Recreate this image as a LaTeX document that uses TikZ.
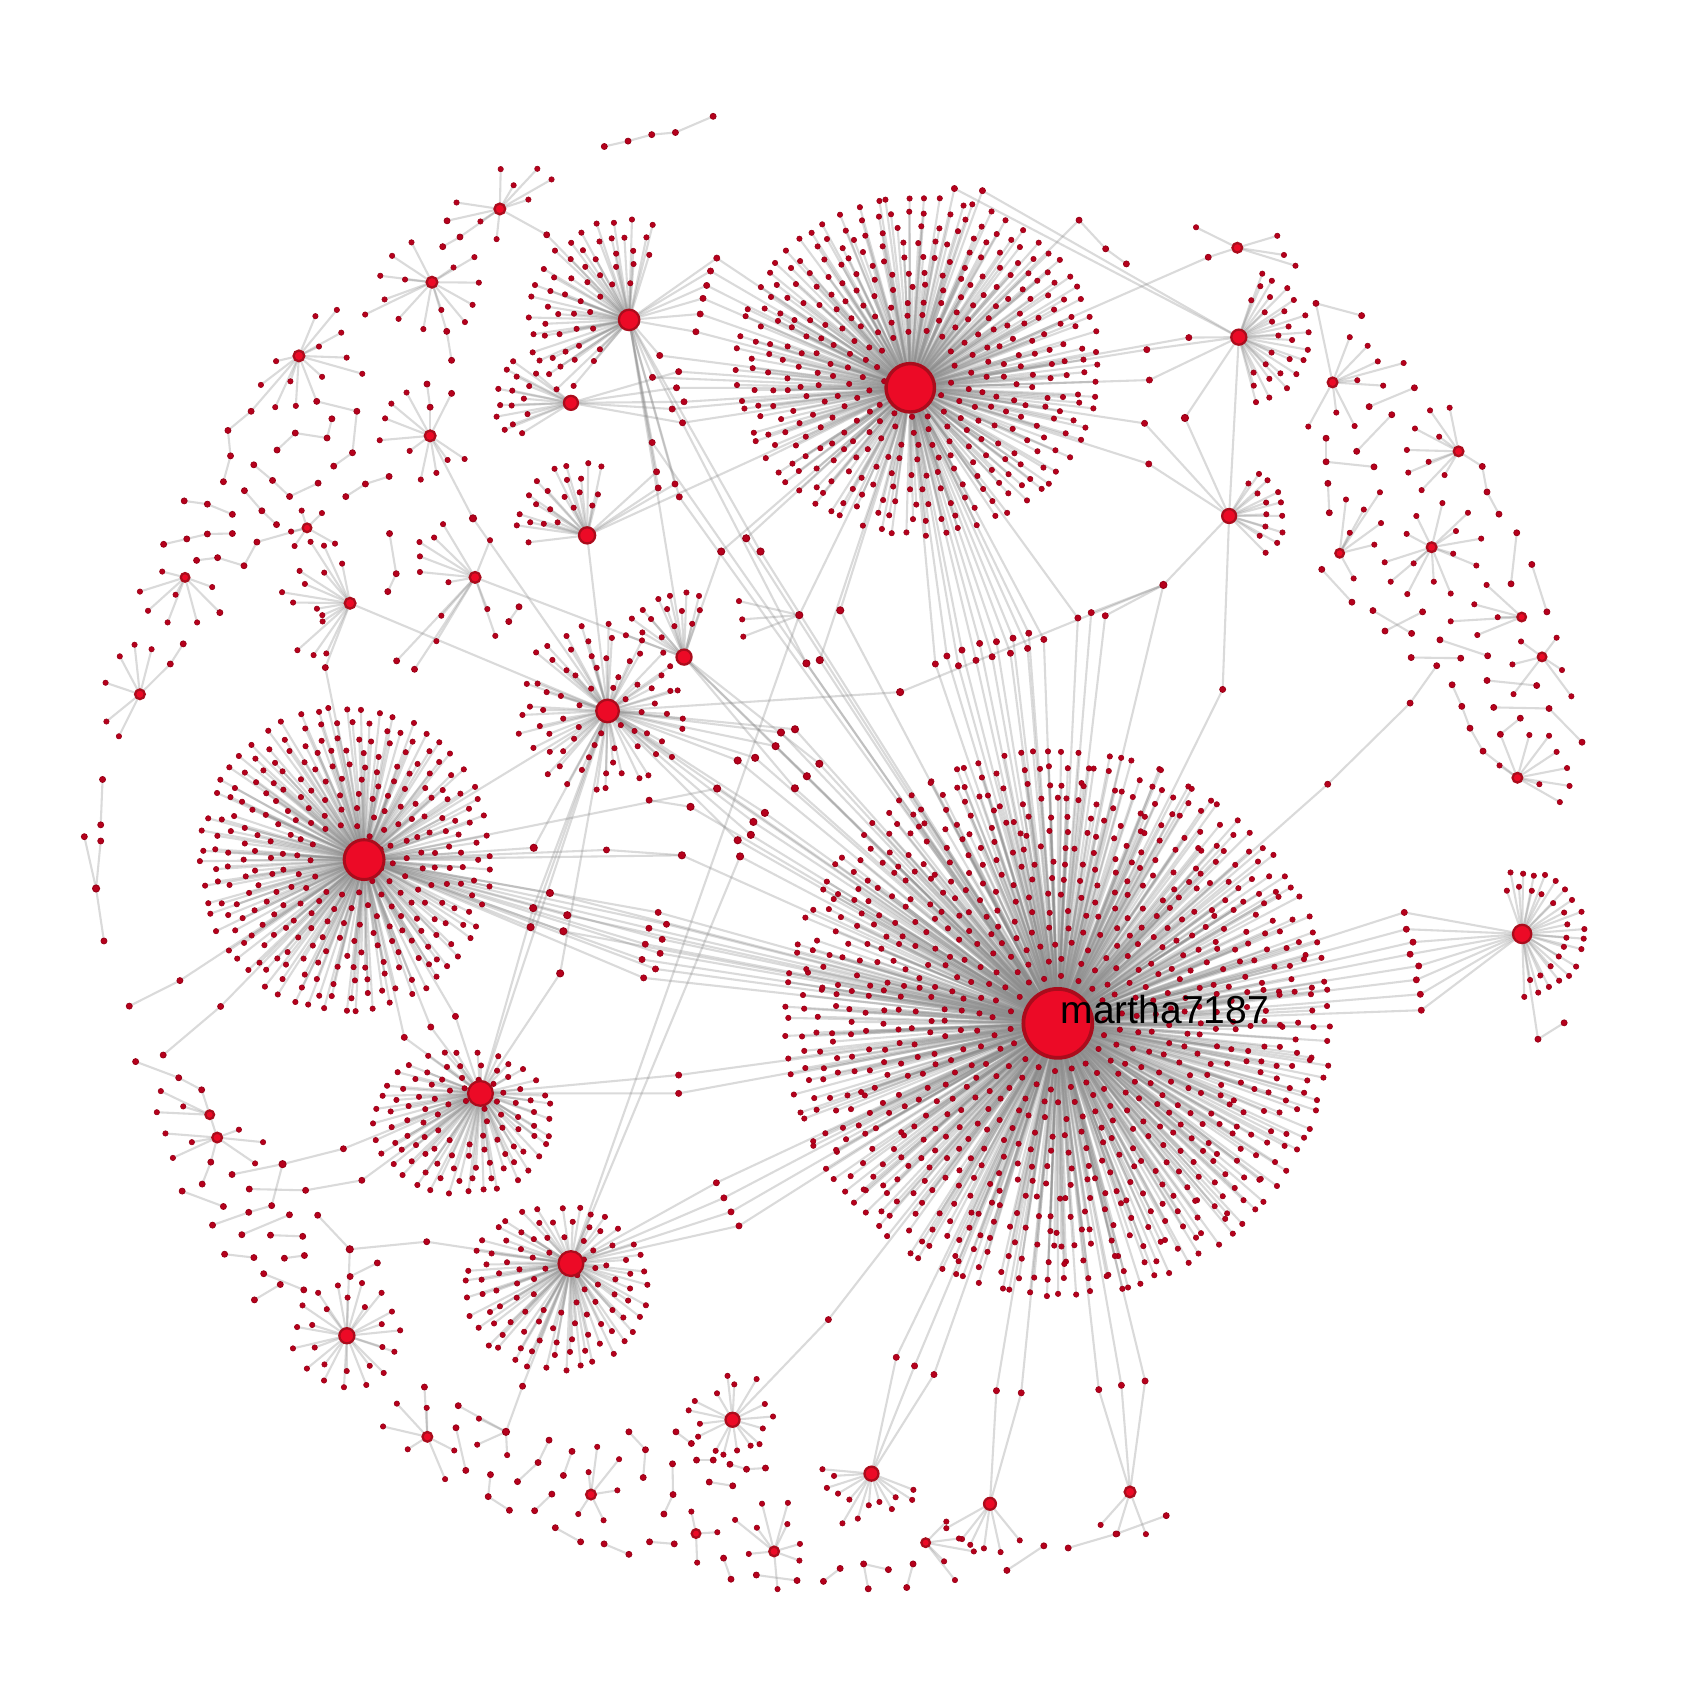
\documentclass[tikz,border=0pt]{standalone}
\usepackage{fontspec}
\setmainfont{Liberation Sans}
\definecolor{leafc}{RGB}{182,0,28}
\definecolor{leafrim}{RGB}{150,0,22}
\definecolor{hubc}{RGB}{236,10,38}
\definecolor{hubrim}{RGB}{170,12,28}
\tikzset{
  edge/.style={draw=black!45, draw opacity=0.32, line width=0.55pt},
  leafdot/.style={fill=leafc, draw=leafrim, line width=0.15pt},
  sdot/.style={circle, fill=leafc, draw=leafrim, line width=0.2pt, inner sep=0pt, minimum size=0.56mm},
  mdot/.style={circle, fill=leafc, draw=leafrim, line width=0.25pt, inner sep=0pt, minimum size=0.66mm},
  hub/.style={circle, fill=hubc, draw=hubrim, line width=0.6pt, inner sep=0pt},
}
\newcounter{qn}
\def\pass{1}
\newcommand\leaf[1]{\ifnum\pass=1 \draw[edge] (#1) -- (p);\else\filldraw[leafdot] (p) circle[radius=0.25mm];\fi}
\newcommand\leaves[2]{\foreach \x/\y in {#2}{\coordinate (p) at (\x,\y);\leaf{#1}}}
\newcommand\hubat[5][]{\ifnum\pass=1 \coordinate (#2) at (#3,#4);\else\node[hub,minimum size=#5*0.1mm,#1] (#2) at (#3,#4) {};\fi}
\newcommand\nd[3]{\ifnum\pass=1 \coordinate (#1) at (#2,#3);\else\node[mdot] (#1) at (#2,#3) {};\fi}
\newcommand\EE[2]{\ifnum\pass=1 \draw[edge] (#1) -- (#2);\fi}
\newcommand\shl[4]{\ifnum\pass=1 \draw[edge] (#3) -- (#1,#2) -- (#4);\else\filldraw[leafdot] (#1,#2) circle[radius=0.29mm];\fi}
% #1 hub, #2 dx, #3 dy, #4 y-scale, #5 r0, #6 dr, #7 rings, #8 spacing
\newcommand\cluster[8]{%
  \foreach \kk in {1,...,#7}{%
    \pgfmathsetmacro\rr{#5+(\kk-1)*(#6)}%
    \pgfmathtruncatemacro\cnt{max(1,round((\clB-(\clA))/360*2*pi*\rr/(#8)))}%
    \pgfmathsetmacro\off{rnd}%
    \foreach \jj in {1,...,\cnt}{%
      \pgfmathsetmacro\ang{\clA+(\jj-\off)/\cnt*(\clB-(\clA))+(rnd-0.5)*\clJ}%
      \pgfmathsetmacro\rad{\rr+(rnd-0.5)*\clR}%
      \path (#1) ++(#2,#3) ++({\rad*cos(\ang)},{#4*\rad*sin(\ang)}) coordinate (p);%
      \leaf{#1}%
    }}}
% #1 hub, #2 n, #3 rmin, #4 rmax, #5 a0, #6 a1
\newcommand\rstar[6]{%
  \foreach \jj in {1,...,#2}{%
    \pgfmathsetmacro\ang{(#5)+(\jj-0.1-0.8*rnd)/(#2)*((#6)-(#5))}%
    \pgfmathsetmacro\rad{(#3)+rnd*((#4)-(#3))}%
    \path (#1) ++(\ang:\rad) coordinate (p);%
    \leaf{#1}}}
% chain of named dots: #1 start node (or empty), #2 list, #3 end node (or empty)
\newcommand\chn[3]{%
  \def\chS{#1}\def\chE{#3}%
  \foreach \x/\y [count=\i] in {#2}{%
    \stepcounter{qn}\edef\curq{q\arabic{qn}}%
    \ifnum\pass=1
      \coordinate (\curq) at (\x,\y);%
      \ifnum\i=1
        \ifx\chS\empty\else\draw[edge] (\chS) -- (\curq);\fi
      \else
        \pgfmathtruncatemacro\prvn{\arabic{qn}-1}%
        \draw[edge] (q\prvn) -- (\curq);%
      \fi
    \else
      \node[sdot] (\curq) at (\x,\y) {};%
    \fi}%
  \ifnum\pass=1 \ifx\chE\empty\else\draw[edge] (q\arabic{qn}) -- (\chE);\fi\fi}
% ================= hubs
\newcommand\hubs{%
\hubat[line width=1pt]{m}{982}{950}{64}
\hubat[line width=0.9pt]{B}{845}{360}{45}
\hubat[line width=0.8pt]{C}{338}{798}{37}
\hubat{D}{564}{660}{21}
\hubat{E}{446}{1015}{23}
\hubat{F}{530}{1173}{23}
\hubat{G}{584}{297}{19}
\hubat{H}{545}{497}{15}
\hubat{I}{530}{374}{13}
\hubat{Q}{635}{610}{14}
\hubat{J}{1413}{867}{17}
\hubat{K}{1150}{313}{14}
\hubat{L}{1141}{479}{13}
\hubat{R}{322}{1240}{14}
\hubat{S}{680}{1318}{13}
\hubat{T}{809}{1368}{13}
\hubat{U}{919}{1396}{11}
\hubat{V}{1049}{1385}{10}
\hubat{h1}{464}{194}{10}
\hubat{h2}{401}{262}{10}
\hubat{h3}{277.5}{330.4}{10}
\hubat{h4}{399.3}{404.6}{10}
\hubat{h5}{441}{536}{10}
\hubat{h6}{325}{560}{10}
\hubat{h7}{129.9}{644.5}{9}
\hubat{h8}{1148.6}{230}{9}
\hubat{h9}{1237}{355}{9}
\hubat{h10}{1354}{419}{9}
\hubat{h11}{1329}{508}{9}
\hubat{h12}{1408.6}{722}{9}
\hubat{h13}{396.7}{1333.8}{9}
\hubat{h14}{548.6}{1387.4}{9}
\hubat{h15}{718.6}{1440.2}{9}
\hubat{h16}{201.6}{1056}{9}
\hubat{h17}{859.3}{1432.1}{8}
\hubat{h18}{1412.6}{572.8}{8}
\hubat{h19}{1243.6}{513.6}{8}
\hubat{h20}{171.8}{536}{8}
\hubat{h21}{285}{490}{8}
\hubat{h22}{1431.5}{609.8}{8}
\hubat{h23}{646.1}{1423.6}{8}
\hubat{hb1}{194.7}{1034.8}{8}
}
% ================= everything else
\newcommand\network{%
\def\clA{0}\def\clB{360}\def\clJ{4}\def\clR{4}
\cluster{m}{0}{0}{1}{45}{14.8}{15}{15.5}
\cluster{B}{7}{-20}{0.93}{36}{14.6}{10}{16}
\cluster{C}{-17}{0}{1.05}{32}{12.8}{9}{15.5}
\def\clJ{14}\def\clR{8}
\cluster{D}{-6}{-2}{1}{24}{13}{5}{22}
\def\clJ{6}\def\clR{5}
\cluster{E}{-16}{27}{0.8}{24}{14.5}{5}{16}
\cluster{F}{-13}{23}{0.9}{24}{15}{5}{16}
\def\clA{130}\def\clB{290}
\cluster{G}{0}{0}{1}{36}{14}{5}{16}
\def\clA{175}\def\clB{285}
\cluster{H}{0}{0}{1}{28}{13}{4}{16}
\def\clA{145}\def\clB{220}
\cluster{I}{0}{0}{1}{42}{13}{3}{14}
\def\clA{200}\def\clB{300}
\cluster{Q}{0}{0}{1}{30}{15}{3}{16}
\def\clA{-110}\def\clB{95}
\cluster{J}{0}{0}{1}{42}{15}{2}{12}
\def\clA{-85}\def\clB{75}
\cluster{K}{0}{0}{1}{35}{14}{3}{15}
\def\clA{-70}\def\clB{45}
\cluster{L}{0}{0}{1}{36}{14}{2}{13}
\def\clA{0}\def\clB{360}
\cluster{R}{0}{0}{1}{33}{16}{2}{20}
\rstar{S}{16}{28}{45}{0}{360}
\rstar{T}{13}{25}{55}{15}{195}
\rstar{U}{6}{40}{47}{40}{160}
\rstar{V}{3}{40}{52}{65}{155}
% shared leaves
\foreach \x/\y in {868.3/616.4, 879/609, 889.7/618, 893/603.5, 906/613, 909.4/597.3, 921/609.7, 925/595.7, 938/606.4, 940.4/592.4, 953.9/601.9, 955/587.8, 969/593.6, 1000.6/573.7}{\shl{\x}{\y}{B}{m}}
\foreach \x/\y in {1303.6/847, 1305.5/862.6, 1311.7/874.6, 1309/885.8, 1317/896.7, 1314.8/909.6, 1318.5/923, 1319.4/937.8}{\shl{\x}{\y}{J}{m}}
\foreach \x/\y in {611/847, 618.7/858, 602.4/861.7, 614.7/872, 599/876.5, 612.8/885, 596/890.7, 608.5/899.5, 597.5/907.8}{\shl{\x}{\y}{C}{m}}
\foreach \x/\y in {650/291.5, 646/308, 652.6/277, 656/265, 659.6/251.6, 665.4/239.6, 612.4/330, 605.7/350.3}{\shl{\x}{\y}{G}{B}}
\foreach \x/\y in {630/345, 628/360, 624/379.7, 635/373, 633.6/392.5}{\shl{\x}{\y}{I}{B}}
\foreach \x/\y in {605.4/410.8, 630.6/461.3}{\shl{\x}{\y}{G}{m}}
\foreach \x/\y in {609.5/438, 626.6/449.3, 611/453}{\shl{\x}{\y}{G}{H}}
\foreach \x/\y in {375.3/963, 399.9/953.4, 422.8/943.5}{\shl{\x}{\y}{C}{E}}
\foreach \x/\y in {630/998, 630/1015}{\shl{\x}{\y}{E}{m}}
\foreach \x/\y in {665/1098, 672/1112, 678.6/1125, 686/1138}{\shl{\x}{\y}{F}{m}}
\foreach \x/\y in {832/1260, 849/1268, 867/1276}{\shl{\x}{\y}{m}{T}}
\foreach \x/\y in {925/1291, 948/1293}{\shl{\x}{\y}{m}{U}}
\foreach \x/\y in {1020/1290, 1041/1286, 1063/1282}{\shl{\x}{\y}{m}{V}}
\foreach \x/\y in {886/175, 912/177, 1064.6/324.6, 1067/352.8, 1103.6/313.4}{\shl{\x}{\y}{B}{K}}
\foreach \x/\y in {1062.5/393, 1066.4/430.7}{\shl{\x}{\y}{B}{L}}
% intermediate nodes and bridges
\nd{n2}{1080}{543} \EE{n2}{m} \EE{n2}{L}
\foreach \x/\y in {1013/568.7, 1026/571.6}{\shl{\x}{\y}{n2}{m}}
\nd{n1}{835.6}{642.5} \EE{D}{n1} \EE{n1}{n2}
\chn{m}{1135/640}{L}
\nd{x1}{439.1}{481.2} \EE{h4}{x1} \EE{x1}{D}
\nd{x2}{1100}{388} \EE{K}{x2} \EE{x2}{L} \EE{K}{L}
\nd{y1}{669.5}{512} \EE{B}{y1} \EE{y1}{Q}
\nd{y2}{692.7}{499.7} \EE{B}{y2} \EE{y2}{m}
\nd{y3}{706}{512} \EE{G}{y3} \EE{y3}{m}
\nd{y4}{748.6}{615.8} \EE{y4}{m} \EE{y4}{G}
\nd{y5}{761}{612.8} \EE{y5}{m} \EE{y5}{B}
\nd{y6}{742}{571} \leaves{y6}{686/558, 689/575, 690/591} \EE{y6}{F} \EE{y6}{B}
\nd{y7}{780}{566.6} \EE{y7}{B} \EE{y7}{m}
\foreach \x/\y [count=\i] in {725/680, 738/677, 720/692.7, 684.8/706, 701/703.5}{\nd{z\i}{\x}{\y}\EE{D}{z\i}\EE{z\i}{m}}
\foreach \x/\y [count=\i] in {760.6/709, 749/720.6, 737.9/731.8}{\nd{zq\i}{\x}{\y}\EE{Q}{zq\i}\EE{zq\i}{m}}
\nd{z9}{665.7}{732} \EE{C}{z9} \EE{z9}{m}
\nd{z10}{641}{749} \EE{z10}{m}
\chn{z10}{602.6/742.8}{}
\foreach \x/\y [count=\i] in {710/754.6, 699.4/763, 697/775, 684.8/780}{\nd{w\i}{\x}{\y}\EE{m}{w\i}\EE{w\i}{D}}
\nd{w5}{687}{795} \EE{m}{w5} \EE{w5}{F}
\nd{w6}{633}{794} \EE{C}{w6} \EE{w6}{m}
\chn{w6}{563/789}{C}
\nd{v1}{495.5}{787} \EE{C}{v1} \EE{v1}{D}
\nd{v2}{510.5}{829} \EE{C}{v2} \EE{v2}{m}
\nd{v3}{495}{843} \EE{D}{v3} \EE{v3}{E}
\nd{v4}{526.6}{849.6} \EE{C}{v4} \EE{v4}{m}
\nd{v5}{492.6}{860.7} \EE{C}{v5} \EE{v5}{D}
\nd{v6}{523}{864.5} \EE{C}{v6} \EE{v6}{m}
\nd{v7}{520}{903.6} \EE{D}{v7} \EE{v7}{E}
\EE{C}{D} \EE{D}{E} \EE{H}{B} \EE{h5}{Q} \EE{h6}{D} \EE{Q}{m} \EE{D}{m} \EE{H}{D} \EE{G}{Q}
% top-left belt
\chn{}{561/136, 583/131, 605/125, 627/123, 662/108}{}
\leaves{h1}{464.8/157, 476.8/172, 498.8/156.7, 512/166.6, 490.5/185.3, 423.8/188, 446/205.6, 461/222}
\chn{h1}{427/220, 411/229}{}
\chn{h1}{415/205}{}
\chn{h1}{507.5/218}{G}
\leaves{h2}{382/225, 364/237.5, 353/256, 376/259.5, 357/278, 339/292, 370/296, 409.7/287.7, 431.6/299, 438.7/283, 444.5/262.4, 421/248.3, 440.4/238.7, 393/305.5}
\chn{h2}{414.7/307.6, 419.2/334.5}{}
\leaves{h3}{292.8/293.5, 296.1/321.7, 312.7/287.7, 321.8/332, 299/349.8, 269.6/354, 256.3/335.3, 242.2/357.3, 274.6/376.8, 255.5/378, 316.8/308.8, 336.3/347}
\chn{h3}{294/372.6, 331.3/381.8, 327.2/420.3, 309.8/432.7}{}
\chn{h3}{233.1/381.8, 211.6/399.6, 214/423.2, 207.4/447.2}{}
\chn{}{308.1/388.8, 303.6/406.6, 274.1/402, 257.2/417.8}{}
\chn{}{235.6/431.5, 253/446, 268.8/460.9, 295.3/448.5}{}
\chn{}{226.9/455.5, 243.1/474.2, 256.7/487}{}
\rstar{h21}{5}{14}{30}{0}{360}
\chn{}{215.7/477.5, 192.5/468, 171/465}{}
\chn{}{215.7/495.3, 192.5/495.7, 173.4/500.3, 151.9/505.3}{}
\chn{}{182.5/520.2, 202/517.7, 226.5/525.2, 238.5/503.2}{h21}
\leaves{h20}{150.6/530.6, 163/552.1, 155.6/577.8, 137.4/567, 129.9/549.2, 183/577.8, 197/545}
\chn{h20}{204.1/568.7}{}
\chn{}{170.1/597.7, 158.1/616.4}{h7}
\leaves{h7}{98/633.8, 98.8/669.8, 110.4/683.5, 124.9/598.5, 140.7/602.7, 111.2/609.3}
\chn{}{95.2/723.6, 93.5/765.7}{}
\nd{lz}{89.2}{824.8}
\chn{}{93.5/780.7}{lz} \chn{}{78.3/776.7}{lz} \chn{lz}{96.5/873.5}{}
\leaves{h4}{363.3/374.7, 357.5/388.4, 352.5/408.7, 380.3/418.6, 390.6/445.2, 405.1/439, 415.5/427, 431.3/426.1, 377.4/364.4}
\chn{h4}{399.3/378, 396.4/356.5}{}
\chn{h4}{419.2/365.2}{}
\chn{}{361.2/442.3, 339.2/449.3, 321/461}{}
\chn{}{361.6/495.3, 367.8/532.6, 360/549.2}{}
\leaves{h5}{389.4/503.2, 389.8/516.5, 389.8/531, 403/499, 411.3/486.6, 416.3/540.5, 454.9/501.5, 409.7/571.6, 405.1/595.2, 452.4/565.4, 459.8/590.3}
\chn{h5}{384.8/621.3}{}
\chn{h5}{368.2/613.5}{}
\chn{}{472.3/577, 481.8/563.3}{}
\rstar{h6}{14}{25}{68}{110}{265}
\chn{h6}{302/619.7}{C}
% top-right / right belt
\leaves{h8}{1185.7/218.9, 1191.9/236.7, 1202.6/246.7, 1110.3/211}
\chn{h8}{1121.6/238.8}{B}
\chn{B}{1001.7/204.4, 1026.4/231, 1045.6/245}{}
\leaves{h9}{1253/313, 1269.6/321, 1279/335.5, 1303/337, 1260/353, 1284/358, 1257.5/395.5, 1240.5/383, 1214.5/396}
\chn{h9}{1221.6/281.6, 1264/293}{}
\leaves{h10}{1327.5/381, 1345.7/378.5, 1313.5/397.8, 1336/405.4, 1306/417.7, 1326.2/428.7, 1307.3/438.7, 1341/441, 1319.7/455}
\chn{h10}{1376/433, 1380.4/456.7, 1391.5/477.3}{}
\leaves{h11}{1339/467, 1362.7/476, 1314.8/479, 1351.6/493, 1375/500, 1305.8/495.6, 1349/514, 1370.5/525, 1312.3/523, 1285.4/522, 1291/540, 1306.4/551.5, 1331/540, 1346.7/551}
\leaves{h19}{1249.5/463.7, 1266/473, 1281/457, 1282/485.6, 1275.8/505.6, 1256.6/537, 1253/494.6}
\chn{}{1231/406.8, 1231/428.7, 1275.5/433.4}{}
\chn{}{1232.7/448.7, 1234/476}{}
\chn{}{1259.4/419, 1292/385}{}
\chn{}{1271/377.5, 1313/360}{}
\leaves{h18}{1368.6/561, 1390.3/573, 1346.7/576.8, 1371.4/589.5, 1380/543}
\chn{}{1408/494.6, 1402.7/542}{}
\chn{}{1422/524, 1436/568}{}
\leaves{h22}{1412/595.5, 1450/622, 1458.7/646.4, 1404/616.8, 1405/644.4, 1445/592}
\chn{}{1386.6/656.7, 1438/657.7, 1468.6/689}{}
\leaves{h12}{1392/710.6, 1419.7/682.3, 1438/683, 1445/698, 1454.7/713, 1457/729.6, 1448/744.6, 1429/728}
\chn{h12}{1392.8/681.7, 1411.3/666.7}{}
\chn{}{1348/635.7, 1357/655.7, 1364.6/676, 1376.7/697.3}{h12}
\chn{m}{1232.5/728, 1309/652.7, 1333.7/618}{}
\chn{}{1310/610.4, 1356/611}{}
\chn{}{1336.7/594, 1381/608.8}{}
\chn{}{1274.5/566.8, 1310.4/588}{}
\chn{}{1380.4/631.7, 1426.5/636.4}{}
\chn{}{1227/528.6, 1255/559}{}
\chn{}{1285.7/585.8, 1320.6/568}{}
\chn{J}{1427.7/964.7, 1452/949.5}{}
% left / bottom-left belt
\chn{C}{204.8/934.3, 151.5/979.4}{}
\chn{C}{167/910.3, 120/934}{}
\leaves{hb1}{149.3/1012.9, 145.6/1032.5, 170.1/1027.1}
\chn{hb1}{187.2/1011.7, 165.9/1000.5, 125.9/985.5}{}
\leaves{h16}{221.8/1048.7, 244.2/1060.3, 236.8/1080, 178.1/1060.3, 153.6/1052.2, 160.5/1074.9}
\EE{hb1}{h16}
\chn{h16}{195.7/1078.8, 187.7/1099.2}{}
\nd{e1}{262.3}{1080.7}
\chn{E}{318.8/1066.4}{e1}
\chn{e1}{215.4/1090.3}{}
\chn{e1}{252.2/1119.2, 230.9/1125.4, 197.3/1137.3}{}
\chn{E}{335.9/1095.7, 283.7/1105, 231.4/1103.8}{}
\chn{}{169.1/1105.7, 207.4/1120}{}
\chn{}{268.7/1127.7, 224.5/1146.2}{}
\nd{e2}{324.7}{1159.7}
\chn{}{294.9/1128.1}{e2}
\EE{e2}{R}
\chn{e2}{396.1/1152.7}{F}
\chn{}{281/1147.7, 251.1/1146.6}{}
\chn{}{208.5/1164.3, 235.7/1167.4}{}
\chn{}{264/1168, 282.6/1165.5}{}
\chn{}{260.2/1192.4, 236.2/1206.7}{}
\chn{}{244.8/1182.4, 282/1197.4}{}
\chn{}{350.3/1172.4, 325/1185}{}
% bottom belt
\leaves{h13}{368.4/1303, 355.6/1324.2, 378.5/1345.4, 396.1/1306.9, 413.2/1373.1, 421.7/1346.5}
\chn{h13}{394/1287.6}{}
\nd{b1}{469.7}{1329.2}
\chn{F}{485.1/1286.8}{b1}
\leaves{b1}{444.6/1316.9, 470.8/1350.8, 443/1341.1}
\chn{b1}{425.4/1304.9}{}
\chn{}{423.3/1325.4, 432.4/1365}{}
\chn{}{455.3/1368.9, 453.2/1389.3, 472.9/1402}{}
\chn{}{496.3/1402.4, 512.3/1387}{}
\chn{}{509.7/1336.9, 499.5/1357.7, 480.4/1375.4}{}
\chn{}{523/1369.7, 531/1347.3}{}
\leaves{h14}{554.4/1343.1, 546.4/1366.6, 574.7/1354.6, 573.1/1383.5, 560.3/1411.3, 536.8/1405.5}
\chn{}{583.8/1329.2, 599.2/1345.8, 597.1/1371.6}{}
\chn{}{515.5/1418.2, 539/1431.3}{}
\chn{}{560.8/1433.2, 583.8/1442.9}{}
\chn{}{603/1431.3, 625.9/1433.2}{}
\chn{}{624.3/1358.9, 624.8/1387.4, 616.3/1405.5}{}
\leaves{h23}{647.2/1450.6, 641.8/1403.2, 665.9/1422.4}
\chn{}{658.4/1375.8, 680.2/1379.3}{}
\chn{}{646.6/1355.4, 662.1/1355.4}{}
\chn{}{641.8/1340, 627.5/1329.2}{}
\chn{}{677.6/1359.3, 693/1363.9, 710.6/1362.8}{}
\leaves{h15}{682.4/1410.9, 702.6/1418.2, 707.4/1395.9, 731.4/1395.1, 730.9/1414.8, 742.6/1433.2, 742.1/1448.7, 695.1/1442.5, 721.8/1475.2}
\chn{}{671.7/1446.4, 678.6/1466}{}
\chn{}{702.1/1462.1, 739.9/1467.2}{}
\chn{}{764.4/1468, 779.9/1456}{}
\chn{}{806/1474.9, 801.7/1451.8, 824.7/1457.1}{}
\chn{}{847.6/1451.8, 841.7/1473.7}{}
\leaves{h17}{876.4/1449.4, 886.5/1466.8, 878.5/1412.5, 890.2/1428.2, 904/1440.2}
\chn{}{934.7/1457.8, 969/1435}{}
\chn{}{991.6/1437, 1036/1424, 1082.6/1407}{}
\chn{m}{769/1225}{S}
}
\begin{document}
\begin{tikzpicture}[x=0.1mm,y=-0.1mm]
\useasboundingbox (0,0) rectangle (1567,1567);
\fill[white] (0,0) rectangle (1567,1567);
% pass 1: connectors
\def\pass{1}\setcounter{qn}{0}\pgfmathsetseed{4242}
\hubs
\network
% pass 2: dots
\def\pass{2}\setcounter{qn}{0}\pgfmathsetseed{4242}
\network
% pass 3: hubs and label on top
\def\pass{3}
\hubs
\node[anchor=base west, inner sep=0pt, font=\fontsize{10.3pt}{12pt}\selectfont] (lbl) at (984,950) {martha7187};
\end{tikzpicture}
\end{document}
